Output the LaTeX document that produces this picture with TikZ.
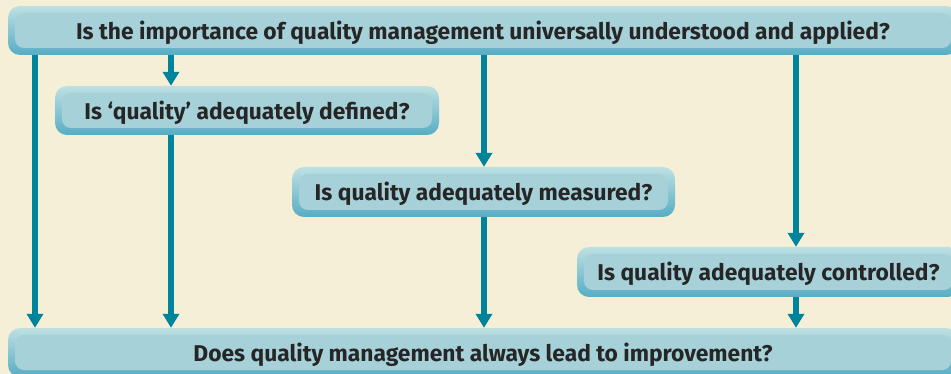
\documentclass[tikz,border=0pt]{standalone}
\usepackage{fontspec}
\setmainfont{Fira Sans}
\usetikzlibrary{arrows.meta}
\definecolor{bg}{HTML}{F5EFD7}
\definecolor{boxtop}{HTML}{BEE0E3}
\definecolor{boxbot}{HTML}{56ADC4}
\definecolor{panel}{HTML}{A7D1D9}
\definecolor{arrowc}{HTML}{00849C}
\definecolor{txt}{HTML}{262626}
\tikzset{
  qbox/.style={rounded corners=12pt, top color=boxtop, bottom color=boxbot,
    minimum height=49pt, inner sep=0pt, text=txt,
    text height=18pt, text depth=0pt,
    font=\fontsize{22.8}{26}\selectfont\bfseries,
    path picture={\fill[panel, rounded corners=9pt]
      ([shift={(7pt,-7pt)}]path picture bounding box.north west) rectangle
      ([shift={(-7pt,7pt)}]path picture bounding box.south east);}},
  flow/.style={draw=arrowc, line width=5.5pt, -{Triangle[width=16pt,length=14pt]}},
}
\begin{document}
\begin{tikzpicture}[x=1pt,y=-1pt]
\fill[bg] (0,0) rectangle (951,374);
\useasboundingbox (0,0) rectangle (951,374);
\node[qbox, minimum width=950pt] (q1) at (483,30.5) {Is the importance of quality management universally understood and applied?};
\node[qbox, minimum width=384pt] (q2) at (247,110.5) {Is ‘quality’ adequately defined?};
\node[qbox, minimum width=383pt, minimum height=50pt] (q3) at (483.5,192) {Is quality adequately measured?};
\node[qbox, minimum width=383pt, minimum height=50pt] (q4) at (768.5,272) {Is quality adequately controlled?};
\node[qbox, minimum width=950pt] (q5) at (483,352.5) {Does quality management always lead to improvement?};
\coordinate (xa) at (35,0);
\coordinate (xb) at (171,0);
\coordinate (xc) at (484,0);
\coordinate (xd) at (796,0);
\draw[flow] (xa |- q1.south) -- (xa |- q5.north);
\draw[flow] (xb |- q1.south) -- (xb |- q2.north);
\draw[flow] (xb |- q2.south) -- (xb |- q5.north);
\draw[flow] (xc |- q1.south) -- (xc |- q3.north);
\draw[flow] (xc |- q3.south) -- (xc |- q5.north);
\draw[flow] (xd |- q1.south) -- (xd |- q4.north);
\draw[flow] (xd |- q4.south) -- (xd |- q5.north);
\end{tikzpicture}
\end{document}
